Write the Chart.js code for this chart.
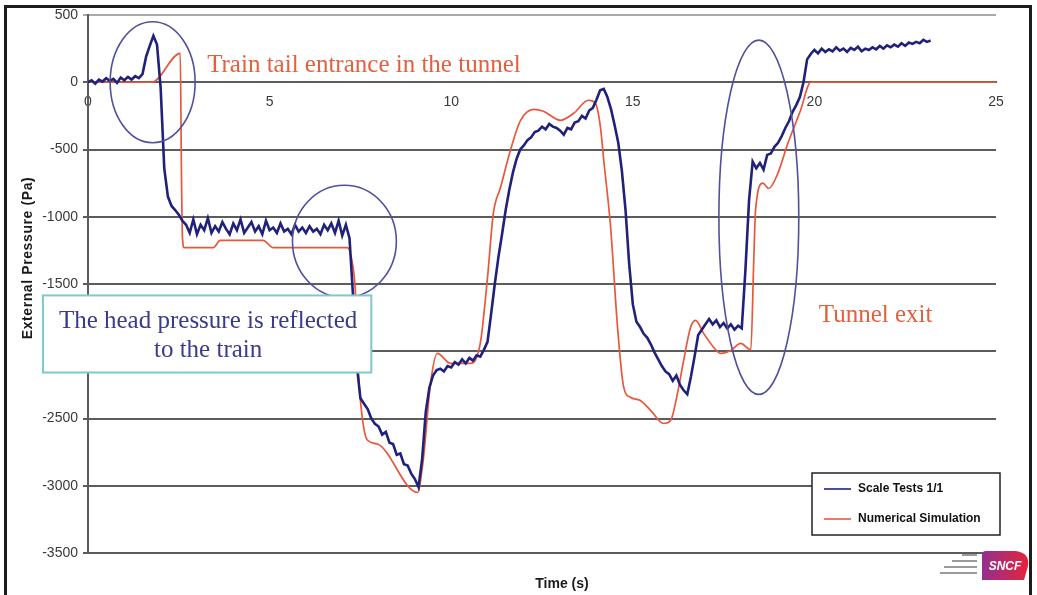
<!DOCTYPE html>
<html>
<head>
<meta charset="utf-8">
<title>External pressure - tunnel passage</title>
<script src="https://cdn.jsdelivr.net/npm/chart.js@4.4.1/dist/chart.umd.min.js"></script>
<style>
  body { margin: 0; background: #fff; }
  canvas { display: block; }
</style>
</head>
<body>
<canvas id="pressureChart" width="1037" height="595"></canvas>
<script>
// scale test 1/1 : one reading every 0.1 s, starting at t = 0
var testStep = 0.1;
var testPressure = [
    0, 15, -10, 20, 5, 30, 10, 25, -5, 35,
    15, 40, 20, 45, 30, 60, 190, 270, 345, 280,
    -40, -640, -850, -920, -950, -985, -1030, -1060, -1120, -1020,
    -1130, -1060, -1100, -1010, -1120, -1070, -1110, -1040, -1090, -1130,
    -1050, -1100, -1020, -1120, -1080, -1040, -1110, -1070, -1130, -1030,
    -1100, -1080, -1120, -1050, -1110, -1090, -1130, -1060, -1110, -1080,
    -1120, -1070, -1110, -1090, -1130, -1060, -1100, -1050, -1120, -1030,
    -1140, -1060, -1160, -1600, -2100, -2350, -2390, -2430, -2500, -2540,
    -2560, -2620, -2600, -2680, -2690, -2770, -2760, -2840, -2850, -2910,
    -2950, -3010, -2800, -2450, -2270, -2180, -2140, -2130, -2150, -2110,
    -2120, -2080, -2100, -2060, -2090, -2050, -2070, -2030, -2040, -1990,
    -1930, -1720, -1500, -1300, -1130, -950, -800, -670, -570, -500,
    -470, -430, -410, -370, -360, -330, -350, -310, -330, -340,
    -360, -390, -340, -350, -300, -290, -250, -270, -210, -190,
    -130, -60, -50, -110, -200, -320, -450, -660, -950, -1350,
    -1650, -1780, -1820, -1870, -1900, -1950, -2010, -2060, -2110, -2150,
    -2170, -2220, -2180, -2250, -2290, -2320, -2190, -2040, -1880, -1840,
    -1800, -1760, -1800, -1770, -1820, -1790, -1830, -1800, -1840, -1810,
    -1830, -1400, -880, -590, -640, -600, -650, -540, -530, -480,
    -450, -400, -340, -290, -220, -170, -110, 0, 170, 210,
    240, 215, 250, 225, 245, 230, 260, 235, 250, 225,
    255, 240, 265, 230, 250, 240, 260, 245, 270, 250,
    275, 260, 280, 265, 290, 270, 295, 285, 300, 290,
    315, 300, 310
];

// numerical simulation
var simTime = [0, 1.76, 2.54, 2.57, 2.6, 2.65, 3.45, 3.64, 4.82, 5.10,
    7.14, 7.28, 7.36, 7.44, 7.55, 7.69, 7.97, 9.07, 9.23, 9.43,
    9.62, 9.98, 10.53, 10.80, 11.00, 11.16, 11.36, 11.63, 11.91, 12.27,
    12.54, 13.01, 13.37, 13.78, 13.97, 14.11, 14.20, 14.39, 14.58, 14.75,
    14.94, 15.21, 15.49, 15.85, 16.04, 16.23, 16.40, 16.59, 16.73, 16.95,
    17.23, 17.42, 17.70, 17.97, 18.25, 18.33, 18.38, 18.58, 18.74, 18.99,
    19.27, 19.62, 19.90, 25];
var simPressure = [0, 0, 215, -600, -1150, -1230, -1230, -1175, -1175, -1230,
    -1230, -1347, -1548, -2140, -2490, -2660, -2690, -3050, -2810, -2240,
    -2016, -2090, -2090, -1942, -1451, -975, -781, -506, -283, -201,
    -216, -283, -231, -134, -156, -335, -580, -1079, -1823, -2269,
    -2344, -2366, -2440, -2537, -2515, -2314, -2068, -1823, -1771, -1867,
    -1972, -2016, -1994, -1942, -1990, -1330, -950, -750, -790, -680,
    -454, -208, 0, 0];

var seriesNames = ['Scale Tests 1/1', 'Numerical Simulation'];
var seriesColors = ['#20217a', '#e8573c'];

// annotations, in data units (time s, pressure Pa)
var ellipses = [
    { t: 1.78, p: 0, rt: 1.17, rp: 450 },
    { t: 7.06, p: -1183, rt: 1.43, rp: 417 },
    { t: 18.47, p: -1004, rt: 1.10, rp: 1317 }
];
var notes = [
    { text: 'Train tail entrance in the tunnel', t: 3.28, p: 74 },
    { text: 'Tunnel exit', t: 20.12, p: -1786 }
];
var boxNote = { lines: ['The head pressure is reflected', 'to the train'], t0: -1.24, t1: 7.80, p0: -1585, p1: -2158 };

var testData = testPressure.map(function (p, i) {
    return { x: +(i * testStep).toFixed(1), y: p };
});
var simData = simTime.map(function (t, i) {
    return { x: t, y: simPressure[i] };
});

var tickFont = { family: '"Liberation Sans", Arial, sans-serif', size: 14 };

var annotate = {
    id: 'annotate',
    afterDatasetsDraw: function (chart) {
        var c = chart.ctx;
        var xs = chart.scales.x, ys = chart.scales.y;
        c.save();

        // circled zones
        c.strokeStyle = '#50509e';
        c.lineWidth = 1.6;
        ellipses.forEach(function (e) {
            var cx = xs.getPixelForValue(e.t), cy = ys.getPixelForValue(e.p);
            var rx = xs.getPixelForValue(e.t + e.rt) - cx;
            var ry = ys.getPixelForValue(e.p - e.rp) - cy;
            c.beginPath();
            c.ellipse(cx, cy, rx, ry, 0, 0, Math.PI * 2);
            c.stroke();
        });

        // red notes
        c.fillStyle = '#e2603d';
        c.font = '25px "Liberation Serif", "Times New Roman", serif';
        c.textBaseline = 'alphabetic';
        c.textAlign = 'left';
        notes.forEach(function (n) {
            c.fillText(n.text, xs.getPixelForValue(n.t), ys.getPixelForValue(n.p));
        });

        // framed note
        var bx0 = xs.getPixelForValue(boxNote.t0), bx1 = xs.getPixelForValue(boxNote.t1);
        var by0 = ys.getPixelForValue(boxNote.p0), by1 = ys.getPixelForValue(boxNote.p1);
        c.fillStyle = '#fff';
        c.fillRect(bx0, by0, bx1 - bx0, by1 - by0);
        c.strokeStyle = '#7ccaca';
        c.lineWidth = 2;
        c.strokeRect(bx0, by0, bx1 - bx0, by1 - by0);
        c.fillStyle = '#3b3b8c';
        c.textAlign = 'center';
        c.fillText(boxNote.lines[0], (bx0 + bx1) / 2 + 1, by0 + 33);
        c.fillText(boxNote.lines[1], (bx0 + bx1) / 2 + 1, by0 + 62);

        c.restore();
    },
    afterDraw: function (chart) {
        var c = chart.ctx;
        var area = chart.chartArea;
        c.save();

        // legend box
        c.strokeStyle = '#222';
        c.lineWidth = 1.5;
        c.fillStyle = '#fff';
        c.fillRect(812, 473, 188, 62);
        c.strokeRect(812, 473, 188, 62);
        c.font = 'bold 12px "Liberation Sans", Arial, sans-serif';
        c.textBaseline = 'middle';
        c.textAlign = 'left';
        chart.data.datasets.forEach(function (ds, i) {
            var yy = 489 + i * 30;
            c.strokeStyle = ds.borderColor;
            c.lineWidth = 1.6;
            c.beginPath();
            c.moveTo(824, yy);
            c.lineTo(851, yy);
            c.stroke();
            c.fillStyle = '#111';
            c.fillText(ds.label, 858, yy);
        });

        // axis titles
        c.fillStyle = '#1a1a1a';
        c.font = 'bold 14px "Liberation Sans", Arial, sans-serif';
        c.textAlign = 'center';
        c.fillText('Time (s)', 562, 584);
        c.save();
        c.translate(28, 258);
        c.rotate(-Math.PI / 2);
        c.letterSpacing = '0.6px';
        c.fillText('External Pressure (Pa)', 0, 0);
        c.restore();

        // logo corner
        var g = c.createLinearGradient(982, 0, 1028, 0);
        g.addColorStop(0, '#93308f');
        g.addColorStop(1, '#e4243c');
        c.fillStyle = g;
        c.beginPath();
        c.moveTo(986, 551);
        c.lineTo(1016, 551);
        c.quadraticCurveTo(1030, 553, 1028, 566);
        c.lineTo(1024, 580);
        c.lineTo(982, 580);
        c.lineTo(982, 555);
        c.quadraticCurveTo(982, 551, 986, 551);
        c.fill();
        c.fillStyle = '#fff';
        c.font = 'italic bold 12px "Liberation Sans", Arial, sans-serif';
        c.fillText('SNCF', 1005, 567);
        c.strokeStyle = '#9a9a9a';
        c.lineWidth = 2;
        [[962, 555, 977], [952, 561, 977], [944, 567, 977], [940, 573, 977]].forEach(function (l) {
            c.beginPath();
            c.moveTo(l[0], l[1]);
            c.lineTo(l[2], l[1]);
            c.stroke();
        });

        // outer frame
        c.strokeStyle = '#1c1c1c';
        c.lineWidth = 3;
        c.strokeRect(5.5, 6.5, 1025, 620);
        c.restore();
    }
};

var ctx = document.getElementById('pressureChart').getContext('2d');
var pressureChart = new Chart(ctx, {
    type: 'line',
    data: {
        datasets: [{
            label: seriesNames[0],
            data: testData,
            borderColor: seriesColors[0],
            borderWidth: 2.6,
            pointRadius: 0,
            tension: 0
        }, {
            label: seriesNames[1],
            data: simData,
            borderColor: seriesColors[1],
            borderWidth: 1.7,
            pointRadius: 0,
            cubicInterpolationMode: 'monotone'
        }]
    },
    options: {
        responsive: false,
        animation: false,
        layout: {
            padding: { left: 0, top: 15, right: 41, bottom: 42 }
        },
        plugins: {
            legend: { display: false },
            tooltip: { enabled: false }
        },
        scales: {
            x: {
                type: 'linear',
                min: 0,
                max: 25,
                position: { y: 0 },
                ticks: {
                    stepSize: 5,
                    padding: 11,
                    maxRotation: 0,
                    color: '#3a3a3a',
                    font: tickFont
                },
                grid: { display: false, drawTicks: false },
                border: { display: true, color: '#5c5c5c', width: 2 }
            },
            y: {
                min: -3500,
                max: 500,
                afterFit: function (scale) { scale.width = 88; },
                ticks: {
                    stepSize: 500,
                    padding: 5,
                    color: '#3a3a3a',
                    font: tickFont,
                    callback: function (v) { return String(v); }
                },
                grid: {
                    color: function (c) {
                        return c.tick && c.tick.value === 500 ? '#a9a9a9' : '#5c5c5c';
                    },
                    lineWidth: 2,
                    tickLength: 5
                },
                border: { color: '#5c5c5c', width: 2 }
            }
        }
    },
    plugins: [annotate]
});
</script>
</body>
</html>
